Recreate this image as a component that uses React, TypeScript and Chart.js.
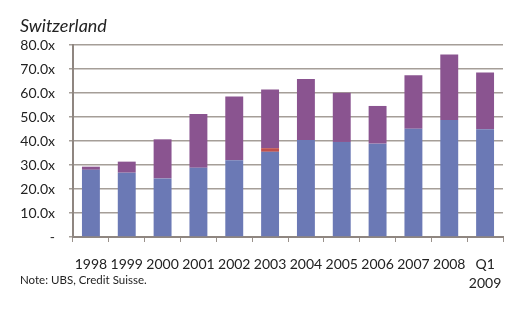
import React, { useEffect, useRef } from "react";
import { Chart, registerables } from "chart.js";

Chart.register(...registerables);

const categories: (string | string[])[] = ["1998", "1999", "2000", "2001", "2002", "2003", "2004", "2005", "2006", "2007", "2008", ["Q1", "2009"]];
const baseValues = [28.0, 26.8, 24.4, 28.9, 32.0, 35.5, 40.4, 39.6, 38.9, 45.1, 48.8, 44.9];
const redValues = [0, 0, 0, 0, 0, 1.5, 0, 0, 0, 0, 0, 0];
const topValues = [1.3, 4.6, 16.3, 22.3, 26.5, 24.5, 25.4, 20.5, 15.7, 22.3, 27.2, 23.6];
const yTicks = [0, 10, 20, 30, 40, 50, 60, 70, 80];

const titleText = "Switzerland";
const noteText = "Note: UBS, Credit Suisse.";
const FONT = "Lato, 'Open Sans', sans-serif";

export default function App() {
  const ref = useRef<HTMLCanvasElement>(null);
  useEffect(() => {
    if (!ref.current) return;
    const textPlugin = {
      id: "texts",
      afterDraw(chart: any) {
        const ctx = chart.ctx;
        ctx.save();
        ctx.fillStyle = "#222";
        ctx.textBaseline = "middle";
        ctx.textAlign = "left";
        ctx.font = `italic 18px ${FONT}`;
        ctx.fillText(titleText, 20, 26);
        ctx.font = `11.5px ${FONT}`;
        ctx.fillText(noteText, 20, 280);
        ctx.restore();
      },
    };
    const chart = new Chart(ref.current, {
      type: "bar",
      data: {
        labels: categories,
        datasets: [
          { label: "a", data: baseValues, backgroundColor: "#6B79B5" },
          { label: "b", data: redValues, backgroundColor: "#C0504D" },
          { label: "c", data: topValues, backgroundColor: "#8A5490" },
        ],
      },
      options: {
        responsive: false,
        animation: false,
        devicePixelRatio: 1,
        layout: { padding: { left: 0, right: 19, top: 45, bottom: 0 } },
        datasets: { bar: { categoryPercentage: 1, barPercentage: 0.5 } },
        plugins: { legend: { display: false }, title: { display: false }, tooltip: { enabled: false } },
        scales: {
          x: {
            stacked: true,
            offset: true,
            grid: { offset: true, drawOnChartArea: false, drawTicks: true, tickLength: 5, color: "#9A918B", lineWidth: 1 },
            border: { color: "#8F8680", width: 2 },
            ticks: { color: "#222", font: { family: FONT, size: 14, lineHeight: 1.35 }, padding: 13, maxRotation: 0, autoSkip: false },
            afterFit: (s: any) => { s.height = 86; },
          },
          y: {
            stacked: true,
            min: 0,
            max: 80,
            afterBuildTicks: (s: any) => { s.ticks = yTicks.map((v) => ({ value: v })); },
            grid: { color: "#A59E98", lineWidth: 1.5, drawTicks: true, tickLength: 4 },
            border: { color: "#8F8680", width: 2 },
            ticks: {
              color: "#222",
              font: { family: FONT, size: 14 },
              padding: 14,
              callback: (v: any) => (Number(v) === 0 ? "-" : Number(v).toFixed(1) + "x"),
            },
            afterFit: (s: any) => { s.width = 73; },
          },
        },
      },
      plugins: [textPlugin],
    });
    return () => chart.destroy();
  }, []);
  return (
    <div style={{ position: "absolute", left: 0, top: 0, width: 522, height: 323, background: "#fff" }}>
      <canvas ref={ref} width={522} height={323} />
    </div>
  );
}
